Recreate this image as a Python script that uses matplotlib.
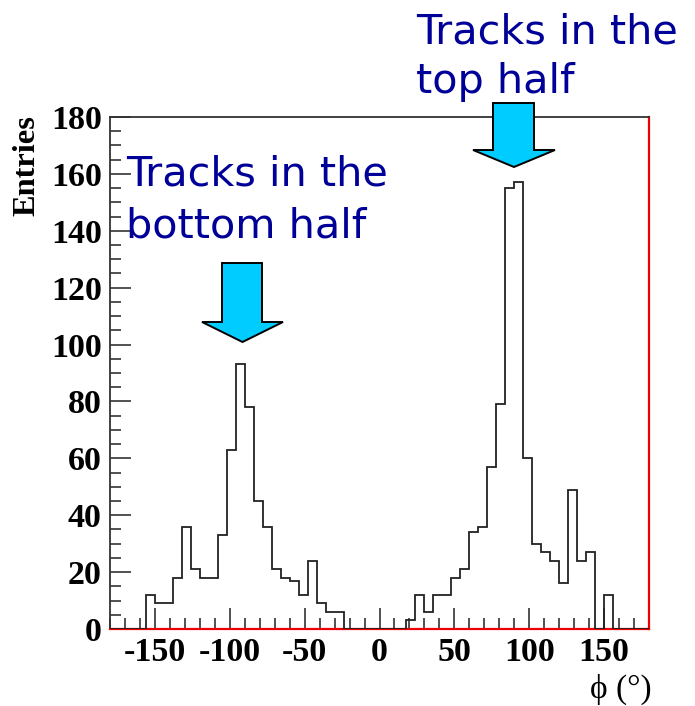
import numpy as np
import matplotlib
matplotlib.use("Agg")
import matplotlib.pyplot as plt
from matplotlib.patches import Polygon
from matplotlib.ticker import MultipleLocator

# phi distribution of tracks, 60 bins of 6 degrees from -180 to 180
bin_edges = np.arange(-180, 181, 6)
entries = [0, 0, 0, 0, 12, 9, 9, 18, 36, 21,
           18, 18, 33, 63, 93, 78, 45, 36, 21, 18,
           17, 12, 24, 9, 6, 6, 0, 0, 0, 0,
           0, 0, 0, 3, 12, 6, 12, 12, 18, 21,
           34, 36, 57, 79, 155, 157, 60, 30, 27, 24,
           16, 49, 24, 27, 0, 12, 0, 0, 0, 0]

W, H = 695, 706
fig = plt.figure(figsize=(W / 100, H / 100), dpi=100)
ax = fig.add_axes([110 / W, 1 - 629 / H, 539 / W, 512 / H])

ax.stairs(entries, bin_edges, color="#222222", lw=1.3, zorder=3)

ax.set_xlim(-180, 180)
ax.set_ylim(0, 180)
ax.xaxis.set_major_locator(MultipleLocator(50))
ax.xaxis.set_minor_locator(MultipleLocator(10))
ax.yaxis.set_major_locator(MultipleLocator(20))
ax.yaxis.set_minor_locator(MultipleLocator(5))
ax.tick_params(which="both", direction="in", color="#222222", width=1.1)
ax.tick_params(which="major", length=15)
ax.tick_params(which="minor", length=8)

tick_font = dict(family="Liberation Serif", weight="bold", size=24.5)
ax.set_xticks(np.arange(-150, 151, 50))
ax.set_xticklabels([str(v) for v in range(-150, 151, 50)], **tick_font)
ax.set_yticks(np.arange(0, 181, 20))
ax.set_yticklabels([str(v) for v in range(0, 181, 20)], **tick_font)
ax.tick_params(axis="x", pad=6)
ax.tick_params(axis="y", pad=6)

for side in ("left", "top"):
    ax.spines[side].set_color("#333333")
    ax.spines[side].set_linewidth(1.3)
for side in ("right", "bottom"):
    ax.spines[side].set_color("#ee0000")
    ax.spines[side].set_linewidth(1.6)

ax.set_ylabel("Entries", family="Liberation Serif", weight="bold", size=23.3)
ax.yaxis.set_label_coords(-0.127, 1.004)
ax.yaxis.label.set_ha("right")
ax.set_xlabel("\u03d5 (°)", family=["Liberation Serif", "DejaVu Serif"], size=24)
ax.xaxis.set_label_coords(1.004, -0.088)
ax.xaxis.label.set_ha("right")


def px(x, y):
    return (x / W, 1 - y / H)


def down_arrow(x0, x1, top, neck, hx0, hx1, tip):
    pts = [(x0, top), (x1, top), (x1, neck), (hx1, neck),
           ((hx0 + hx1) / 2, tip), (hx0, neck), (x0, neck)]
    poly = Polygon([px(*p) for p in pts], closed=True, transform=fig.transFigure,
                   facecolor="#00ccff", edgecolor="black", lw=1.4, zorder=5)
    fig.add_artist(poly)


down_arrow(222, 262, 263, 322, 202, 283, 342)
down_arrow(493, 534, 103, 150, 473, 555, 167)

note = dict(color="#000099", size=29.8, family="DejaVu Sans", va="baseline", ha="left")
fig.text(*px(126, 185), "Tracks in the", **note)
fig.text(*px(126, 237), "bottom half", **note)
fig.text(*px(416, 43), "Tracks in the", **note)
fig.text(*px(416, 93), "top half", **note)

fig.savefig("out.png", dpi=100)
